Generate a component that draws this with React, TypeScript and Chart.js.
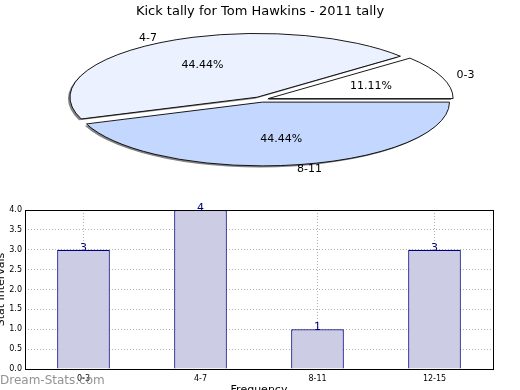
import React, { useEffect, useRef } from 'react';
import { Chart, registerables } from 'chart.js';

Chart.register(...registerables);

// ---------- data ----------
const chartTitle = 'Kick tally for Tom Hawkins - 2011 tally';
const pieLabels = ['0-3', '4-7', '8-11'];
const pieValues = [1, 4, 4];
const pieColors = ['#ffffff', '#ebf1fe', '#c4d7ff'];

const barLabels = ['0-3', '4-7', '8-11', '12-15'];
const barValues = [3, 4, 1, 3];
const yMin = 0;
const yMax = 4;
const yStep = 0.5;
const xTitle = 'Frequency';
const yTitle = 'Stat Intervals';
const watermark = 'Dream-Stats.com';

// ---------- geometry / style ----------
const FONT = "'DejaVu Sans', sans-serif";
const PIE_CX = 261;
const PIE_CY = 99.5;
const PIE_RX = 182;
const PIE_RY = 62;
const PIE_H = 190;
const BAR_TOP = 190;
const BAR_H = 200;

function applyPieTransform(ctx: CanvasRenderingContext2D, a: any) {
  const r0 = a.outerRadius;
  ctx.translate(PIE_CX, PIE_CY);
  ctx.scale(PIE_RX / r0, PIE_RY / r0);
  ctx.translate(-a.x, -a.y);
}

function toPage(a: any, px: number, py: number) {
  const r0 = a.outerRadius;
  return [PIE_CX + ((px - a.x) * PIE_RX) / r0, PIE_CY + ((py - a.y) * PIE_RY) / r0];
}

const piePlugin = {
  id: 'ellipsePie',
  beforeDatasetsDraw(chart: any) {
    const ctx = chart.ctx as CanvasRenderingContext2D;
    const a = chart.getDatasetMeta(0).data[0];
    ctx.save();
    ctx.shadowColor = 'rgba(90,90,90,0.75)';
    ctx.shadowOffsetX = -2;
    ctx.shadowOffsetY = 1.5;
    ctx.shadowBlur = 0;
    applyPieTransform(ctx, a);
  },
  afterDatasetsDraw(chart: any) {
    const ctx = chart.ctx as CanvasRenderingContext2D;
    ctx.restore();
    const meta = chart.getDatasetMeta(0);
    const values = chart.data.datasets[0].data as number[];
    const labels = chart.data.labels as string[];
    const total = values.reduce((s, v) => s + v, 0);
    meta.data.forEach((a: any, i: number) => {
      const off = (a.options.offset || 0) / 4;
      const circ = a.endAngle - a.startAngle;
      const fix = 1 - Math.sin(Math.min(Math.PI, circ));
      const m = (a.startAngle + a.endAngle) / 2;
      ctx.save();
      applyPieTransform(ctx, a);
      ctx.translate(Math.cos(m) * off, Math.sin(m) * off);
      ctx.beginPath();
      ctx.moveTo(a.x, a.y);
      ctx.arc(a.x, a.y, a.outerRadius + off * fix, a.startAngle, a.endAngle);
      ctx.closePath();
      ctx.restore();
      ctx.save();
      ctx.lineWidth = 0.9;
      ctx.strokeStyle = '#000';
      ctx.lineJoin = 'miter';
      ctx.stroke();
      ctx.restore();

      // labels
      const r0 = a.outerRadius;
      const c = Math.cos(m);
      const s = Math.sin(m);
      const [lx, ly] = toPage(a, a.x + c * (off + 1.1 * r0), a.y + s * (off + 1.1 * r0));
      const [px, py] = toPage(a, a.x + c * (off + 0.6 * r0), a.y + s * (off + 0.6 * r0));
      ctx.save();
      ctx.fillStyle = '#000';
      ctx.font = `11px ${FONT}`;
      ctx.textBaseline = 'middle';
      ctx.textAlign = c >= 0 ? 'left' : 'right';
      ctx.fillText(labels[i], lx, ly);
      ctx.textAlign = 'center';
      ctx.fillText(((values[i] / total) * 100).toFixed(2) + '%', px, py);
      ctx.restore();
    });
  },
};

const barPlugin = {
  id: 'barDecor',
  afterDatasetsDraw(chart: any) {
    const ctx = chart.ctx as CanvasRenderingContext2D;
    const meta = chart.getDatasetMeta(0);
    const values = chart.data.datasets[0].data as number[];
    ctx.save();
    ctx.fillStyle = '#000080';
    ctx.font = `11px ${FONT}`;
    ctx.textAlign = 'center';
    ctx.textBaseline = 'alphabetic';
    meta.data.forEach((b: any, i: number) => {
      ctx.fillText(String(values[i]), b.x, b.y + 1);
    });
    ctx.restore();
  },
  afterDraw(chart: any) {
    const ctx = chart.ctx as CanvasRenderingContext2D;
    const { left, right, top, bottom } = chart.chartArea;
    ctx.save();
    ctx.strokeStyle = '#000';
    ctx.lineWidth = 1;
    ctx.strokeRect(Math.round(left) + 0.5, Math.round(top) + 0.5, Math.round(right - left), Math.round(bottom - top));
    ctx.fillStyle = '#000';
    ctx.font = `11px ${FONT}`;
    ctx.textAlign = 'center';
    ctx.textBaseline = 'alphabetic';
    ctx.fillText(xTitle, (left + right) / 2, 203);
    ctx.save();
    ctx.translate(4, (top + bottom) / 2);
    ctx.rotate(-Math.PI / 2);
    ctx.fillText(yTitle, 0, 0);
    ctx.restore();
    ctx.fillStyle = 'rgba(128,128,128,0.85)';
    ctx.font = `12px ${FONT}`;
    ctx.textAlign = 'left';
    ctx.fillText(watermark, 0, 194);
    ctx.restore();
  },
};

export default function App() {
  const pieRef = useRef<HTMLCanvasElement>(null);
  const barRef = useRef<HTMLCanvasElement>(null);

  useEffect(() => {
    document.body.style.margin = '0';
    const order = [2, 1, 0];
    const pie = new Chart(pieRef.current!, {
      type: 'pie',
      data: {
        labels: order.map((i) => pieLabels[i]),
        datasets: [
          {
            data: order.map((i) => pieValues[i]),
            backgroundColor: order.map((i) => pieColors[i]),
            borderWidth: 0,
            offset: 13,
          },
        ],
      },
      options: {
        responsive: false,
        animation: false,
        rotation: 90,
        layout: { padding: 0 },
        plugins: {
          legend: { display: false },
          tooltip: { enabled: false },
          title: {
            display: true,
            text: chartTitle,
            color: '#000',
            font: { family: FONT, size: 13, weight: 'normal' },
            padding: { top: 4, bottom: 6 },
          },
        },
      },
      plugins: [piePlugin],
    } as any);

    const yTickVals: number[] = [];
    for (let v = yMin; v <= yMax + 1e-9; v += yStep) yTickVals.push(v);

    const bar = new Chart(barRef.current!, {
      type: 'bar',
      data: {
        labels: barLabels,
        datasets: [
          {
            data: barValues,
            backgroundColor: '#ccccE4',
            borderColor: '#000080',
            borderWidth: 1.2,
            categoryPercentage: 1,
            barPercentage: 0.45,
          },
        ],
      },
      options: {
        responsive: false,
        animation: false,
        layout: { padding: { top: 20, right: 27, left: 0, bottom: 0 } },
        plugins: { legend: { display: false }, tooltip: { enabled: false } },
        scales: {
          x: {
            z: 1,
            offset: true,
            grid: { offset: false, color: '#b0b0b0', drawTicks: false } as any,
            border: { display: false, dash: [1, 2] },
            ticks: { color: '#000', font: { family: FONT, size: 8 }, padding: 5, maxRotation: 0 },
            afterFit: (s: any) => {
              s.height = 21;
            },
          },
          y: {
            z: 1,
            min: yMin,
            max: yMax,
            afterBuildTicks: (s: any) => {
              s.ticks = yTickVals.map((v) => ({ value: v }));
            },
            grid: { color: '#b0b0b0', drawTicks: false } as any,
            border: { display: false, dash: [1, 2] },
            ticks: {
              color: '#000',
              font: { family: FONT, size: 8 },
              padding: 3,
              callback: (v: any) => Number(v).toFixed(1),
            },
            afterFit: (s: any) => {
              s.width = 25;
            },
          },
        },
      },
      plugins: [barPlugin],
    } as any);

    return () => {
      pie.destroy();
      bar.destroy();
    };
  }, []);

  return (
    <div style={{ position: 'absolute', left: 0, top: 0, width: 520, height: 390, background: '#fff', overflow: 'hidden' }}>
      <canvas ref={pieRef} width={520} height={PIE_H} style={{ position: 'absolute', left: 0, top: 0, display: 'block' }} />
      <canvas ref={barRef} width={520} height={BAR_H} style={{ position: 'absolute', left: 0, top: BAR_TOP, display: 'block' }} />
    </div>
  );
}
